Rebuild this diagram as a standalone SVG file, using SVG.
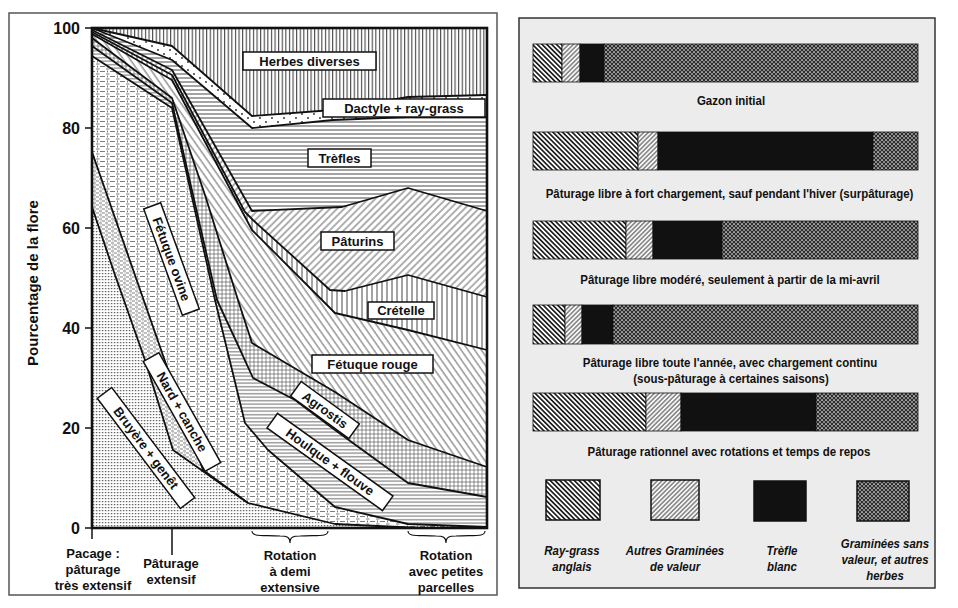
<svg xmlns="http://www.w3.org/2000/svg" width="958" height="608" viewBox="0 0 958 608">
<defs>
<style>
.t{font-family:"Liberation Sans",Arial,sans-serif;font-weight:bold;fill:#111}
.lt{font-size:13px;text-anchor:middle}
.lb{fill:#fff;stroke:#111;stroke-width:1.5}
.bd{fill:none;stroke:#111;stroke-width:1.8;stroke-linejoin:round}
.ax{font-size:16px;text-anchor:end}
.xl{font-size:13px;text-anchor:middle}
.rt{font-size:13.5px;text-anchor:middle}
.lg{font-size:13px;text-anchor:middle;font-style:italic}
.bar{stroke:#111;stroke-width:0.8}
</style>
<pattern id="pHerbes" width="3.6" height="8" patternUnits="userSpaceOnUse"><rect width="3.6" height="8" fill="#fff"/><line x1="1.5" y1="0" x2="1.5" y2="8" stroke="#333" stroke-width="1"/></pattern>
<pattern id="pDots" width="12" height="8" patternUnits="userSpaceOnUse"><rect width="12" height="8" fill="#fff"/><circle cx="2" cy="2" r="0.9" fill="#222"/><circle cx="8" cy="6" r="0.9" fill="#222"/></pattern>
<pattern id="pHoriz" width="8" height="4" patternUnits="userSpaceOnUse"><rect width="8" height="4" fill="#fff"/><line x1="0" y1="2" x2="8" y2="2" stroke="#333" stroke-width="0.9"/></pattern>
<pattern id="pSlash" width="5" height="5" patternUnits="userSpaceOnUse" patternTransform="rotate(45)"><rect width="5" height="5" fill="#fff"/><line x1="1" y1="0" x2="1" y2="5" stroke="#333" stroke-width="0.8"/></pattern>
<pattern id="pVert" width="5" height="5" patternUnits="userSpaceOnUse"><rect width="5" height="5" fill="#fff"/><line x1="2" y1="0" x2="2" y2="5" stroke="#333" stroke-width="0.9"/></pattern>
<pattern id="pBack" width="5.5" height="5" patternUnits="userSpaceOnUse" patternTransform="rotate(-35)"><rect width="5.5" height="5" fill="#fff"/><line x1="1" y1="0" x2="1" y2="5" stroke="#333" stroke-width="0.8"/></pattern>
<pattern id="pGrid" width="4" height="4" patternUnits="userSpaceOnUse"><rect width="4" height="4" fill="#fff"/><path d="M0,2H4M2,0V4" stroke="#444" stroke-width="0.6"/></pattern>
<pattern id="pHoriz3" width="6" height="3.5" patternUnits="userSpaceOnUse"><rect width="6" height="3.5" fill="#fff"/><line x1="0" y1="1.7" x2="6" y2="1.7" stroke="#333" stroke-width="0.8"/></pattern>
<pattern id="pDash" width="10" height="5" patternUnits="userSpaceOnUse"><rect width="10" height="5" fill="#fff"/><path d="M0,1.5H5M6,4H9.5M7.5,0.5V2.5" stroke="#444" stroke-width="0.7"/></pattern>
<pattern id="pNard" width="6" height="4" patternUnits="userSpaceOnUse"><rect width="6" height="4" fill="#fff"/><path d="M0,1H3M3,3H6" stroke="#444" stroke-width="0.7"/><rect x="4.5" y="0.5" width="0.8" height="0.8" fill="#444"/></pattern>
<pattern id="pBruy" width="3" height="3" patternUnits="userSpaceOnUse"><rect width="3" height="3" fill="#fff"/><rect x="0" y="0" width="1.2" height="1.2" fill="#555"/><line x1="0" y1="0.6" x2="3" y2="0.6" stroke="#999" stroke-width="0.3"/></pattern>
<pattern id="rRay" width="3.4" height="3.4" patternUnits="userSpaceOnUse" patternTransform="rotate(-45)"><rect width="3.4" height="3.4" fill="#fff"/><line x1="1.7" y1="0" x2="1.7" y2="3.4" stroke="#111" stroke-width="1.6"/></pattern>
<pattern id="rAut" width="3.2" height="3.2" patternUnits="userSpaceOnUse" patternTransform="rotate(45)"><rect width="3.2" height="3.2" fill="#f6f6f6"/><line x1="1.6" y1="0" x2="1.6" y2="3.2" stroke="#333" stroke-width="0.9"/></pattern>
<pattern id="rGram" width="4" height="4" patternUnits="userSpaceOnUse"><rect width="4" height="4" fill="#8a8a8a"/><path d="M0,0L4,4M4,0L0,4" stroke="#222" stroke-width="0.9"/><rect x="1.6" y="0" width="0.8" height="0.8" fill="#ddd"/></pattern>
</defs>
<rect width="958" height="608" fill="#fff"/>

<g id="left-panel">
<rect x="9" y="13" width="488" height="582" fill="#fff" stroke="#555" stroke-width="1.5"/>
<g id="regions">
<rect id="herbes-diverses" x="92" y="28" width="395" height="500" fill="url(#pHerbes)"/>
<polygon id="dactyle" points="92,28 172,46 252,116 333,110 408,97 487,95 487,528 92,528" fill="url(#pDots)"/>
<polygon id="trefles" points="92,28 172,60 252,128 333,120 408,117 487,117 487,528 92,528" fill="url(#pHoriz)"/>
<polygon id="paturins" points="92,30 172,70 252,211 342,207 408,188 487,211 487,528 92,528" fill="url(#pSlash)"/>
<polygon id="cretelle" points="92,32 172,75 245,212 253,220 330,290 345,291 408,275 487,297 487,528 92,528" fill="url(#pVert)"/>
<polygon id="fetuque-rouge" points="92,34 172,80 252,230 335,313 408,330 487,350 487,528 92,528" fill="url(#pBack)"/>
<polygon id="agrostis" points="92,38 172,98 205,195 238,300 252,343 335,392 408,440 487,467 487,528 92,528" fill="url(#pGrid)"/>
<polygon id="houlque" points="92,46 172,103 217,300 237,343 253,378 295,400 335,430 408,483 487,497 487,528 92,528" fill="url(#pHoriz3)"/>
<polygon id="fetuque-ovine" points="92,56 172,108 215,300 245,423 268,450 335,507 408,524 487,527 487,528 92,528" fill="url(#pDash)"/>
<polygon id="nard" points="92,152 203,470 248,503 335,524 420,528 92,528" fill="url(#pNard)"/>
<polygon id="bruyere" points="92,207 115,275 145,360 173,450 248,503 335,524 420,528 92,528" fill="url(#pBruy)"/>
</g>
<g id="boundaries">
<polyline class="bd" points="92,28 172,46 252,116 333,110 408,97 487,95"/>
<polyline class="bd" points="92,28 172,60 252,128 333,120 408,117 487,117"/>
<polyline class="bd" points="92,30 172,70 252,211 342,207 408,188 487,211"/>
<polyline class="bd" points="92,32 172,75 245,212 253,220 330,290 345,291 408,275 487,297"/>
<polyline class="bd" points="92,34 172,80 252,230 335,313 408,330 487,350"/>
<polyline class="bd" points="92,38 172,98 205,195 238,300 252,343 335,392 408,440 487,467"/>
<polyline class="bd" points="92,46 172,103 217,300 237,343 253,378 295,400 335,430 408,483 487,497"/>
<polyline class="bd" points="92,56 172,108 215,300 245,423 268,450 335,507 408,524 487,527"/>
<polyline class="bd" points="92,152 203,470 248,503 335,524 420,528"/>
<polyline class="bd" points="92,207 115,275 145,360 173,450 248,503"/>
</g>
<rect x="92" y="28" width="395" height="500" fill="none" stroke="#111" stroke-width="2.6"/>
<g id="axis" stroke="#111" stroke-width="1.5">
<line x1="85" y1="28" x2="92" y2="28"/><line x1="85" y1="128" x2="92" y2="128"/><line x1="85" y1="228" x2="92" y2="228"/><line x1="85" y1="328" x2="92" y2="328"/><line x1="85" y1="428" x2="92" y2="428"/><line x1="85" y1="528" x2="92" y2="528"/>
<line x1="92" y1="528" x2="92" y2="539"/><line x1="172" y1="528" x2="172" y2="555"/>
<path d="M252,531 C252,537 262,535 280,536 C287,536 290,537 290,543 C290,537 293,536 300,536 C318,535 328,537 328,531" fill="none" stroke-width="1.1"/>
<path d="M408,531 C408,537 418,535 436,536 C443,536 446,537 446,543 C446,537 449,536 456,536 C475,535 485,537 485,531" fill="none" stroke-width="1.1"/>
</g>
<g id="axis-labels" class="t">
<text class="ax" x="80" y="34">100</text><text class="ax" x="80" y="134">80</text><text class="ax" x="80" y="234">60</text><text class="ax" x="80" y="334">40</text><text class="ax" x="80" y="434">20</text><text class="ax" x="80" y="534">0</text>
<text transform="translate(38,283) rotate(-90)" style="font-size:15px;text-anchor:middle">Pourcentage de la flore</text>
<text class="xl" x="93" y="558">Pacage :</text><text class="xl" x="93" y="574">pâturage</text><text class="xl" x="93" y="590">très extensif</text>
<text class="xl" x="171" y="568">Pâturage</text><text class="xl" x="171" y="584">extensif</text>
<text class="xl" x="290" y="560">Rotation</text><text class="xl" x="290" y="576">à demi</text><text class="xl" x="290" y="592">extensive</text>
<text class="xl" x="446" y="560">Rotation</text><text class="xl" x="446" y="576">avec petites</text><text class="xl" x="446" y="592">parcelles</text>
</g>
<g id="region-labels" class="t">
<g id="lab-herbes"><rect class="lb" x="243" y="52" width="133" height="18"/><text class="t lt" x="309.5" y="65.5">Herbes diverses</text></g>
<g id="lab-dactyle"><rect class="lb" x="323" y="99" width="162" height="18"/><text class="t lt" x="404" y="112.5">Dactyle + ray-grass</text></g>
<g id="lab-trefles"><rect class="lb" x="308" y="149" width="63" height="18"/><text class="t lt" x="339.5" y="162.5">Trèfles</text></g>
<g id="lab-paturins"><rect class="lb" x="321" y="232" width="73" height="18"/><text class="t lt" x="357.5" y="245.5">Pâturins</text></g>
<g id="lab-cretelle"><rect class="lb" x="368" y="302" width="66" height="17"/><text class="t lt" x="401" y="315">Crételle</text></g>
<g id="lab-fetuque-rouge"><rect class="lb" x="312" y="355" width="121" height="18"/><text class="t lt" x="372.5" y="368.5">Fétuque rouge</text></g>
<g id="lab-agrostis" transform="translate(325,410) rotate(36)"><rect class="lb" x="-36" y="-9" width="72" height="18"/><text class="t lt" x="0" y="4.5">Agrostis</text></g>
<g id="lab-houlque" transform="translate(330,462) rotate(35.6)"><rect class="lb" x="-71" y="-9" width="142" height="18"/><text class="t lt" x="0" y="4.5">Houlque + flouve</text></g>
<g id="lab-bruyere" transform="translate(146,448) rotate(53)"><rect class="lb" x="-69" y="-9" width="138" height="18"/><text class="t lt" x="0" y="4.5">Bruyère + genêt</text></g>
<g id="lab-nard" transform="translate(182,412) rotate(60.6)"><rect class="lb" x="-63" y="-9" width="126" height="18"/><text class="t lt" x="0" y="4.5">Nard + canche</text></g>
<g id="lab-fetuque-ovine" transform="translate(171.5,259) rotate(70)"><rect class="lb" x="-56.5" y="-9" width="113" height="18"/><text class="t lt" x="0" y="4.5">Fétuque ovine</text></g>
</g>
</g>

<g id="right-panel">
<rect x="519" y="18" width="416" height="570" fill="#ececec" stroke="#333" stroke-width="1.5"/>
<g id="bar-1">
<rect class="bar" x="533" y="44" width="29" height="38" fill="url(#rRay)"/><rect class="bar" x="562" y="44" width="18" height="38" fill="url(#rAut)"/><rect class="bar" x="580" y="44" width="24" height="38" fill="#111"/><rect class="bar" x="604" y="44" width="314" height="38" fill="url(#rGram)"/>
<text class="t rt" transform="translate(731,105) scale(0.85,1)">Gazon initial</text>
</g>
<g id="bar-2">
<rect class="bar" x="533" y="132" width="105" height="38" fill="url(#rRay)"/><rect class="bar" x="638" y="132" width="20" height="38" fill="url(#rAut)"/><rect class="bar" x="658" y="132" width="215" height="38" fill="#111"/><rect class="bar" x="873" y="132" width="45" height="38" fill="url(#rGram)"/>
<text class="t rt" transform="translate(729.5,198) scale(0.85,1)">Pâturage libre à fort chargement, sauf pendant l'hiver (surpâturage)</text>
</g>
<g id="bar-3">
<rect class="bar" x="533" y="221" width="93" height="38" fill="url(#rRay)"/><rect class="bar" x="626" y="221" width="27" height="38" fill="url(#rAut)"/><rect class="bar" x="653" y="221" width="69" height="38" fill="#111"/><rect class="bar" x="722" y="221" width="196" height="38" fill="url(#rGram)"/>
<text class="t rt" transform="translate(730,284) scale(0.85,1)">Pâturage libre modéré, seulement à partir de la mi-avril</text>
</g>
<g id="bar-4">
<rect class="bar" x="533" y="305" width="32" height="39" fill="url(#rRay)"/><rect class="bar" x="565" y="305" width="17" height="39" fill="url(#rAut)"/><rect class="bar" x="582" y="305" width="31" height="39" fill="#111"/><rect class="bar" x="613" y="305" width="305" height="39" fill="url(#rGram)"/>
<text class="t rt" transform="translate(730,367) scale(0.85,1)">Pâturage libre toute l'année, avec chargement continu</text>
<text class="t rt" transform="translate(731,383) scale(0.85,1)">(sous-pâturage à certaines saisons)</text>
</g>
<g id="bar-5">
<rect class="bar" x="533" y="393" width="113" height="38" fill="url(#rRay)"/><rect class="bar" x="646" y="393" width="35" height="38" fill="url(#rAut)"/><rect class="bar" x="681" y="393" width="135" height="38" fill="#111"/><rect class="bar" x="816" y="393" width="102" height="38" fill="url(#rGram)"/>
<text class="t rt" transform="translate(729,456) scale(0.85,1)">Pâturage rationnel avec rotations et temps de repos</text>
</g>
<g id="legend">
<g id="leg-ray"><rect x="546" y="480" width="54" height="40" fill="url(#rRay)" stroke="#111" stroke-width="1.5"/><text class="t lg" transform="translate(572,555) scale(0.88,1)">Ray-grass</text><text class="t lg" transform="translate(572,571) scale(0.88,1)">anglais</text></g>
<g id="leg-autres"><rect x="651" y="480" width="48" height="40" fill="url(#rAut)" stroke="#111" stroke-width="1.5"/><text class="t lg" transform="translate(675,555) scale(0.88,1)">Autres Graminées</text><text class="t lg" transform="translate(675,571) scale(0.88,1)">de valeur</text></g>
<g id="leg-trefle"><rect x="754" y="481" width="52" height="40" fill="#111" stroke="#111" stroke-width="1.5"/><text class="t lg" transform="translate(782,555) scale(0.88,1)">Trèfle</text><text class="t lg" transform="translate(782,571) scale(0.88,1)">blanc</text></g>
<g id="leg-gram"><rect x="857" y="481" width="52" height="40" fill="url(#rGram)" stroke="#111" stroke-width="1.5"/><text class="t lg" transform="translate(885,548) scale(0.88,1)">Graminées sans</text><text class="t lg" transform="translate(885,564) scale(0.88,1)">valeur, et autres</text><text class="t lg" transform="translate(885,580) scale(0.88,1)">herbes</text></g>
</g>
</g>
</svg>
